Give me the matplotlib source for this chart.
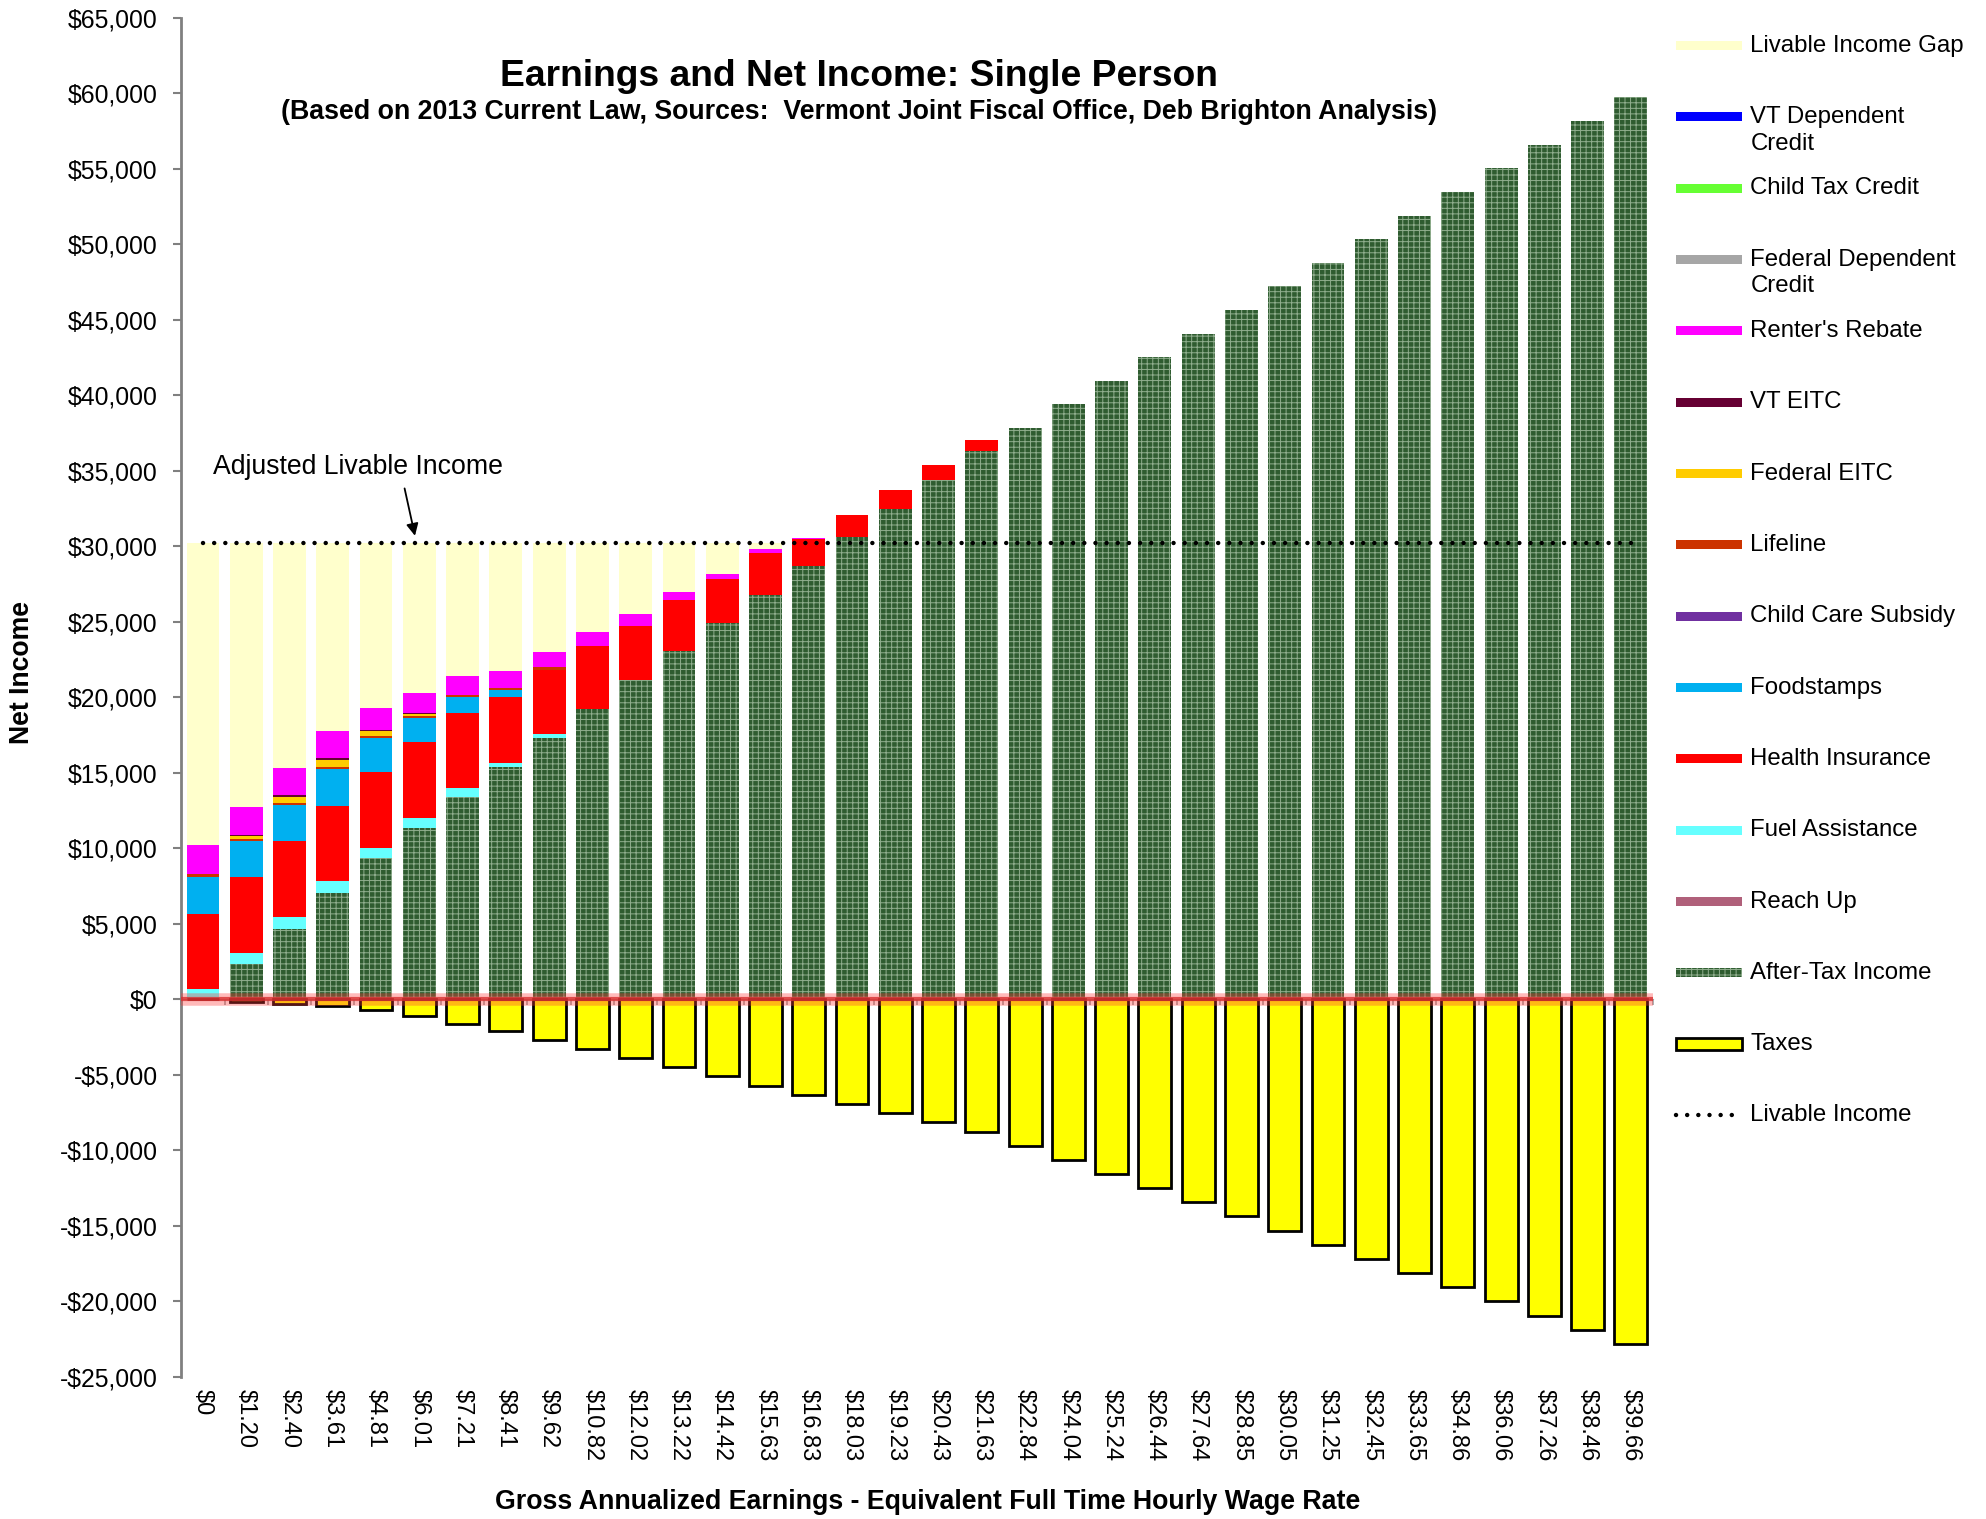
import matplotlib
matplotlib.use('Agg')
import matplotlib.pyplot as plt
from matplotlib.patches import Rectangle
from matplotlib.lines import Line2D
from matplotlib.ticker import FuncFormatter, MultipleLocator
import numpy as np

plt.rcParams['font.family'] = ['Liberation Sans', 'DejaVu Sans']
plt.rcParams['hatch.linewidth'] = 0.7

# hourly wage categories
wages = ['$0', '$1.20', '$2.40', '$3.61', '$4.81', '$6.01', '$7.21', '$8.41', '$9.62',
         '$10.82', '$12.02', '$13.22', '$14.42', '$15.63', '$16.83', '$18.03', '$19.23',
         '$20.43', '$21.63', '$22.84', '$24.04', '$25.24', '$26.44', '$27.64', '$28.85',
         '$30.05', '$31.25', '$32.45', '$33.65', '$34.86', '$36.06', '$37.26', '$38.46',
         '$39.66']
n = len(wages)

livable = [30250] * n

after_tax = [0, 2320, 4680, 7040, 9360, 11350, 13400, 15390, 17330, 19230, 21130,
             23050, 24920, 26810, 28700, 30620, 32500, 34400, 36300, 37850, 39410,
             40980, 42550, 44090, 45660, 47220, 48790, 50330, 51900, 53470, 55030,
             56600, 58170, 59730]
reach_up = [0] * n
fuel = [700, 750, 770, 780, 690, 680, 600, 290, 220] + [0] * 25
health = [4975, 5010, 5020, 4980, 5010, 5020, 4990, 4350, 4290, 4170, 3580, 3400,
          2890, 2740, 1760, 1430, 1200, 1000, 730] + [0] * 15
food = [2425, 2410, 2430, 2440, 2250, 1610, 1040, 440] + [0] * 26
child_care = [0] * n
lifeline = [180, 150, 110, 130, 130, 110, 130, 150, 180] + [0] * 25
fed_eitc = [0, 150, 400, 490, 310, 130] + [0] * 28
vt_eitc = [0, 70, 100, 130, 60, 40] + [0] * 28
renters = [1920, 1880, 1810, 1760, 1470, 1350, 1260, 1130, 970, 910, 790, 540, 390,
           250, 110] + [0] * 19
fed_dep = [0] * n
child_tax = [0] * n
vt_dep = [0] * n
gap = [20050, 17510, 14930, 12500, 10970, 9960, 8830, 8500, 7260, 5940, 4750, 3260,
       2050, 450] + [0] * 20
taxes = [0, -180, -330, -460, -670, -1130, -1630, -2120, -2690, -3290, -3890, -4500,
         -5100, -5720, -6310, -6930, -7550, -8140, -8760, -9690, -10640, -11570,
         -12510, -13440, -14370, -15310, -16240, -17190, -18120, -19070, -19990,
         -20940, -21870, -22820]

green = '#2f5c30'
stacks = [
    ('After-Tax Income', after_tax, green),
    ('Reach Up', reach_up, '#b0607a'),
    ('Fuel Assistance', fuel, '#66ffff'),
    ('Health Insurance', health, '#ff0000'),
    ('Foodstamps', food, '#00b0f0'),
    ('Child Care Subsidy', child_care, '#7030a0'),
    ('Lifeline', lifeline, '#cc3300'),
    ('Federal EITC', fed_eitc, '#ffcc00'),
    ('VT EITC', vt_eitc, '#660033'),
    ("Renter's Rebate", renters, '#ff00ff'),
    ('Federal Dependent\nCredit', fed_dep, '#a6a6a6'),
    ('Child Tax Credit', child_tax, '#66ff33'),
    ('VT Dependent\nCredit', vt_dep, '#0000ff'),
    ('Livable Income Gap', gap, '#ffffcc'),
]

fig = plt.figure(figsize=(19.86, 15.19), dpi=100)
ax = fig.add_axes([0.0913, 0.0935, 0.7408, 0.8948])

x = np.arange(n)
w = 0.76
bottom = np.zeros(n)
for label, vals, col in stacks:
    vals = np.array(vals, dtype=float)
    if label == 'After-Tax Income':
        ax.bar(x, vals, w, bottom=bottom, facecolor=col, edgecolor='#90ae8e',
               hatch='+++', linewidth=0, zorder=2)
    else:
        ax.bar(x, vals, w, bottom=bottom, color=col, linewidth=0, zorder=2)
    bottom += vals

ax.bar(x, taxes, w, color='#ffff00', edgecolor='black', linewidth=2, zorder=2)

ax.plot(x, livable, color='black', linewidth=3.2, linestyle=(0, (0.01, 2.5)),
        dash_capstyle='round', zorder=4)

# the blurred red line along zero
ax.axhline(0, color='#ff3b3b', linewidth=9, alpha=0.35, zorder=3)
ax.axhline(0, color='#d93030', linewidth=3, alpha=0.8, zorder=3)

ax.set_xlim(-0.5, n - 0.5)
ax.set_ylim(-25000, 65000)
ax.yaxis.set_major_locator(MultipleLocator(5000))
ax.yaxis.set_major_formatter(FuncFormatter(
    lambda v, p: ('-$%s' % format(int(abs(v)), ',')) if v < 0 else '$%s' % format(int(v), ',')))
ax.tick_params(axis='y', labelsize=17.8, length=6, width=1.5, color='#808080', pad=11)

ax.set_xticks(x)
ax.set_xticklabels(wages, rotation=270, fontsize=17)
ax.tick_params(axis='x', length=0, pad=9)
for lbl in ax.get_xticklabels():
    lbl.set_verticalalignment('top')
    lbl.set_horizontalalignment('center')

for s in ['top', 'right', 'bottom']:
    ax.spines[s].set_visible(False)
ax.spines['left'].set_color('#808080')
ax.spines['left'].set_linewidth(2)

# category axis at zero with small ticks between bars
zero_pos = 25000 / 90000
sec = ax.secondary_xaxis(zero_pos)
sec.set_xticks(np.arange(n + 1) - 0.5)
sec.set_xticklabels([])
sec.tick_params(axis='x', length=4, color='#a0a0a0', width=1.2, direction='out')
sec.spines['bottom'].set_color('#a0a0a0')

ax.annotate('Adjusted Livable Income', xy=(4.9, 30700), xytext=(0.23, 35240),
            fontsize=19.2, ha='left', va='center',
            arrowprops=dict(arrowstyle='-|>', color='black', lw=1.3,
                            mutation_scale=18, relpos=(0.655, 0.0), shrinkA=4, shrinkB=0))

fig.text(0.4325, 0.9495, 'Earnings and Net Income: Single Person', fontsize=26.8,
         fontweight='bold', ha='center', va='center')
fig.text(0.4325, 0.9265,
         '(Based on 2013 Current Law, Sources:  Vermont Joint Fiscal Office, Deb Brighton Analysis)',
         fontsize=19.3, fontweight='bold', ha='center', va='center')
fig.text(0.011, 0.5576, 'Net Income', fontsize=19.2, fontweight='bold', rotation=90,
         ha='center', va='center')
fig.text(0.467, 0.011, 'Gross Annualized Earnings - Equivalent Full Time Hourly Wage Rate',
         fontsize=19.3, fontweight='bold', ha='center', va='center')

# legend drawn by hand so rows stay evenly spaced
def fx(s):
    return s / 1568.0

def fy(s):
    return 1 - s / 1199.0

entries = [(lab, 'bar', col) for lab, vals, col in reversed(stacks)]
entries.append(('Taxes', 'box', '#ffff00'))
entries.append(('Livable Income', 'dot', 'black'))

x0, x1 = fx(1323), fx(1375)
for i, (lab, kind, col) in enumerate(entries):
    ys = 36 + 56.3 * i
    yc = fy(ys)
    if kind == 'bar':
        h = 7 / 1199.0
        if lab == 'After-Tax Income':
            fig.add_artist(Rectangle((x0, yc - h / 2), x1 - x0, h, facecolor=col,
                                     edgecolor='#90ae8e', hatch='+++', linewidth=0,
                                     transform=fig.transFigure))
        else:
            fig.add_artist(Rectangle((x0, yc - h / 2), x1 - x0, h, facecolor=col,
                                     linewidth=0, transform=fig.transFigure))
    elif kind == 'box':
        h = 9 / 1199.0
        fig.add_artist(Rectangle((x0, yc - h / 2), x1 - x0, h, facecolor=col,
                                 edgecolor='black', linewidth=2,
                                 transform=fig.transFigure))
    else:
        fig.add_artist(Line2D([x0, x1], [yc, yc], color='black', linewidth=3.2,
                              linestyle=(0, (0.01, 2.5)), dash_capstyle='round',
                              transform=fig.transFigure))
    for k, line in enumerate(lab.split('\n')):
        fig.text(fx(1382), fy(ys + 21 * k), line, fontsize=17.3, ha='left', va='center')

fig.savefig('out.png', dpi=100)
